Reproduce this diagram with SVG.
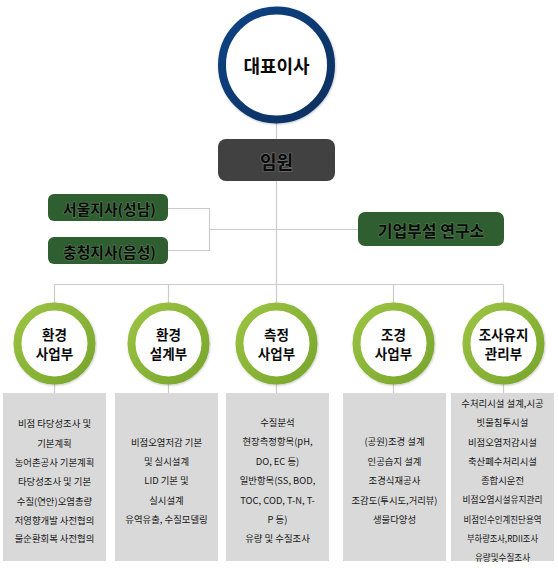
<svg xmlns="http://www.w3.org/2000/svg" width="558" height="568" viewBox="0 0 558 568">
<defs>
<linearGradient id="gNavy" x1="0" y1="0" x2="1" y2="1">
<stop offset="0" stop-color="#0e4383"/>
<stop offset="1" stop-color="#062f5f"/>
</linearGradient>
<linearGradient id="gGreen" x1="0" y1="0" x2="1" y2="1">
<stop offset="0" stop-color="#9cc443"/>
<stop offset="1" stop-color="#78a52c"/>
</linearGradient>
<filter id="soft" x="-20%" y="-20%" width="140%" height="140%">
<feDropShadow dx="0.6" dy="0.8" stdDeviation="0.8" flood-color="#000" flood-opacity="0.25"/>
</filter>
<style>
.ln{stroke:#cbcbcb;stroke-width:1.2;fill:none}
.ring{fill:#fff;stroke:url(#gGreen);stroke-width:8}
.top{fill:#fff;stroke:url(#gNavy);stroke-width:8}
.green{fill:#2f5e30}
.dark{fill:#414141}
.box{fill:#d9d9d9}
.t{font-family:"Noto Sans CJK KR","Noto Sans",sans-serif;text-anchor:middle;dominant-baseline:central}
.h{font-weight:700;fill:#0a0a0a}
.g{font-weight:700;fill:#0a0a0a;stroke:#7f9f7f;stroke-width:1.2;paint-order:stroke;stroke-opacity:0.55}
.d{font-weight:700;fill:#0a0a0a;stroke:#8a8a8a;stroke-width:1.4;paint-order:stroke;stroke-opacity:0.6}
.s{font-size:9.4px;fill:#151515}
</style>
</defs>
<g id="connectors">
<path class="ln" d="M276.5 120V284.5"/>
<path class="ln" d="M168 208.5H209.5V250.5H168M209.5 229.5H358"/>
<path class="ln" d="M54.5 284.5H503.5"/>
<path class="ln" d="M54.5 284.5V393M168.5 284.5V393M276.5 284.5V393M393.5 284.5V393M503.5 284.5V393"/>
</g>
<g id="ceo">
<circle class="top" cx="276.5" cy="65" r="54.5" filter="url(#soft)"/>
<text class="t h" x="276.5" y="65" font-size="18">대표이사</text>
</g>
<g id="executive">
<rect class="dark" x="218" y="139" width="117" height="42" rx="8"/>
<text class="t d" x="276.5" y="160.5" font-size="18">임원</text>
</g>
<g id="seoul">
<rect class="green" x="48" y="194" width="120" height="27" rx="6"/>
<text class="t g" x="109.5" y="208" font-size="14.8">서울지사(성남)</text>
</g>
<g id="chungcheong">
<rect class="green" x="48" y="237" width="120" height="27" rx="6"/>
<text class="t g" x="109.5" y="251" font-size="14.8">충청지사(음성)</text>
</g>
<g id="lab">
<rect class="green" x="358" y="212" width="146" height="34" rx="7"/>
<text class="t g" x="431" y="229.5" font-size="16">기업부설 연구소</text>
</g>
<g id="dept1">
<circle class="ring" cx="54.5" cy="343.5" r="37" filter="url(#soft)"/>
<text class="t h" x="54.5" y="333.5" font-size="13.5">환경</text>
<text class="t h" x="54.5" y="352.5" font-size="13.5">사업부</text>
</g>
<g id="dept2">
<circle class="ring" cx="168.5" cy="343.5" r="37" filter="url(#soft)"/>
<text class="t h" x="168.5" y="333.5" font-size="13.5">환경</text>
<text class="t h" x="168.5" y="352.5" font-size="13.5">설계부</text>
</g>
<g id="dept3">
<circle class="ring" cx="276.5" cy="343.5" r="37" filter="url(#soft)"/>
<text class="t h" x="276.5" y="333.5" font-size="13.5">측정</text>
<text class="t h" x="276.5" y="352.5" font-size="13.5">사업부</text>
</g>
<g id="dept4">
<circle class="ring" cx="393.5" cy="343.5" r="37" filter="url(#soft)"/>
<text class="t h" x="393.5" y="333.5" font-size="13.5">조경</text>
<text class="t h" x="393.5" y="352.5" font-size="13.5">사업부</text>
</g>
<g id="dept5">
<circle class="ring" cx="503.5" cy="343.5" r="37" filter="url(#soft)"/>
<text class="t h" x="503.5" y="333.5" font-size="13.5">조사유지</text>
<text class="t h" x="503.5" y="352.5" font-size="13.5">관리부</text>
</g>
<g id="tasks1">
<rect class="box" x="3" y="393" width="103" height="168"/>
<text class="t s" x="54.5" y="422.5">비점 타당성조사 및</text>
<text class="t s" x="54.5" y="442.5">기본계획</text>
<text class="t s" x="54.5" y="462">농어촌공사 기본계획</text>
<text class="t s" x="54.5" y="481">타당성조사 및 기본</text>
<text class="t s" x="54.5" y="500.5">수질(연안)오염총량</text>
<text class="t s" x="54.5" y="519.5">저영향개발 사전협의</text>
<text class="t s" x="54.5" y="538">물순환회복 사전협의</text>
</g>
<g id="tasks2">
<rect class="box" x="115" y="393" width="103" height="168"/>
<text class="t s" x="166.5" y="441.5">비점오염저감 기본</text>
<text class="t s" x="166.5" y="460.5">및 실시설계</text>
<text class="t s" x="166.5" y="480">LID 기본 및</text>
<text class="t s" x="166.5" y="499.5">실시설계</text>
<text class="t s" x="166.5" y="518.5">유역유출, 수질모델링</text>
</g>
<g id="tasks3">
<rect class="box" x="226" y="393" width="103" height="168"/>
<text class="t s" x="277.5" y="421.5">수질분석</text>
<text class="t s" x="277.5" y="441">현장측정항목(pH,</text>
<text class="t s" x="277.5" y="460.5">DO, EC 등)</text>
<text class="t s" x="277.5" y="480">일반항목(SS, BOD,</text>
<text class="t s" x="277.5" y="499.5">TOC, COD, T-N, T-</text>
<text class="t s" x="277.5" y="519">P 등)</text>
<text class="t s" x="277.5" y="538">유량 및 수질조사</text>
</g>
<g id="tasks4">
<rect class="box" x="343" y="393" width="103" height="168"/>
<text class="t s" x="394.5" y="441">(공원)조경 설계</text>
<text class="t s" x="394.5" y="460.5">인공습지 설계</text>
<text class="t s" x="394.5" y="480">조경식재공사</text>
<text class="t s" x="394.5" y="499.5" textLength="86" lengthAdjust="spacingAndGlyphs">조감도(투시도,거리뷰)</text>
<text class="t s" x="394.5" y="518.5">생물다양성</text>
</g>
<g id="tasks5">
<rect class="box" x="451" y="393" width="103" height="168"/>
<text class="t s" x="502.5" y="402.5">수처리시설 설계,시공</text>
<text class="t s" x="502.5" y="422">빗물침투시설</text>
<text class="t s" x="502.5" y="441.5">비점오염저감시설</text>
<text class="t s" x="502.5" y="460.5">축산폐수처리시설</text>
<text class="t s" x="502.5" y="480">종합시운전</text>
<text class="t s" x="502.5" y="499" textLength="80" lengthAdjust="spacingAndGlyphs">비점오염시설유지관리</text>
<text class="t s" x="502.5" y="518.5" textLength="78" lengthAdjust="spacingAndGlyphs">비점인수인계진단용역</text>
<text class="t s" x="502.5" y="537.5" textLength="71" lengthAdjust="spacingAndGlyphs">부하량조사,RDII조사</text>
<text class="t s" x="502.5" y="556.5" textLength="55" lengthAdjust="spacingAndGlyphs">유량및수질조사</text>
</g>
</svg>
